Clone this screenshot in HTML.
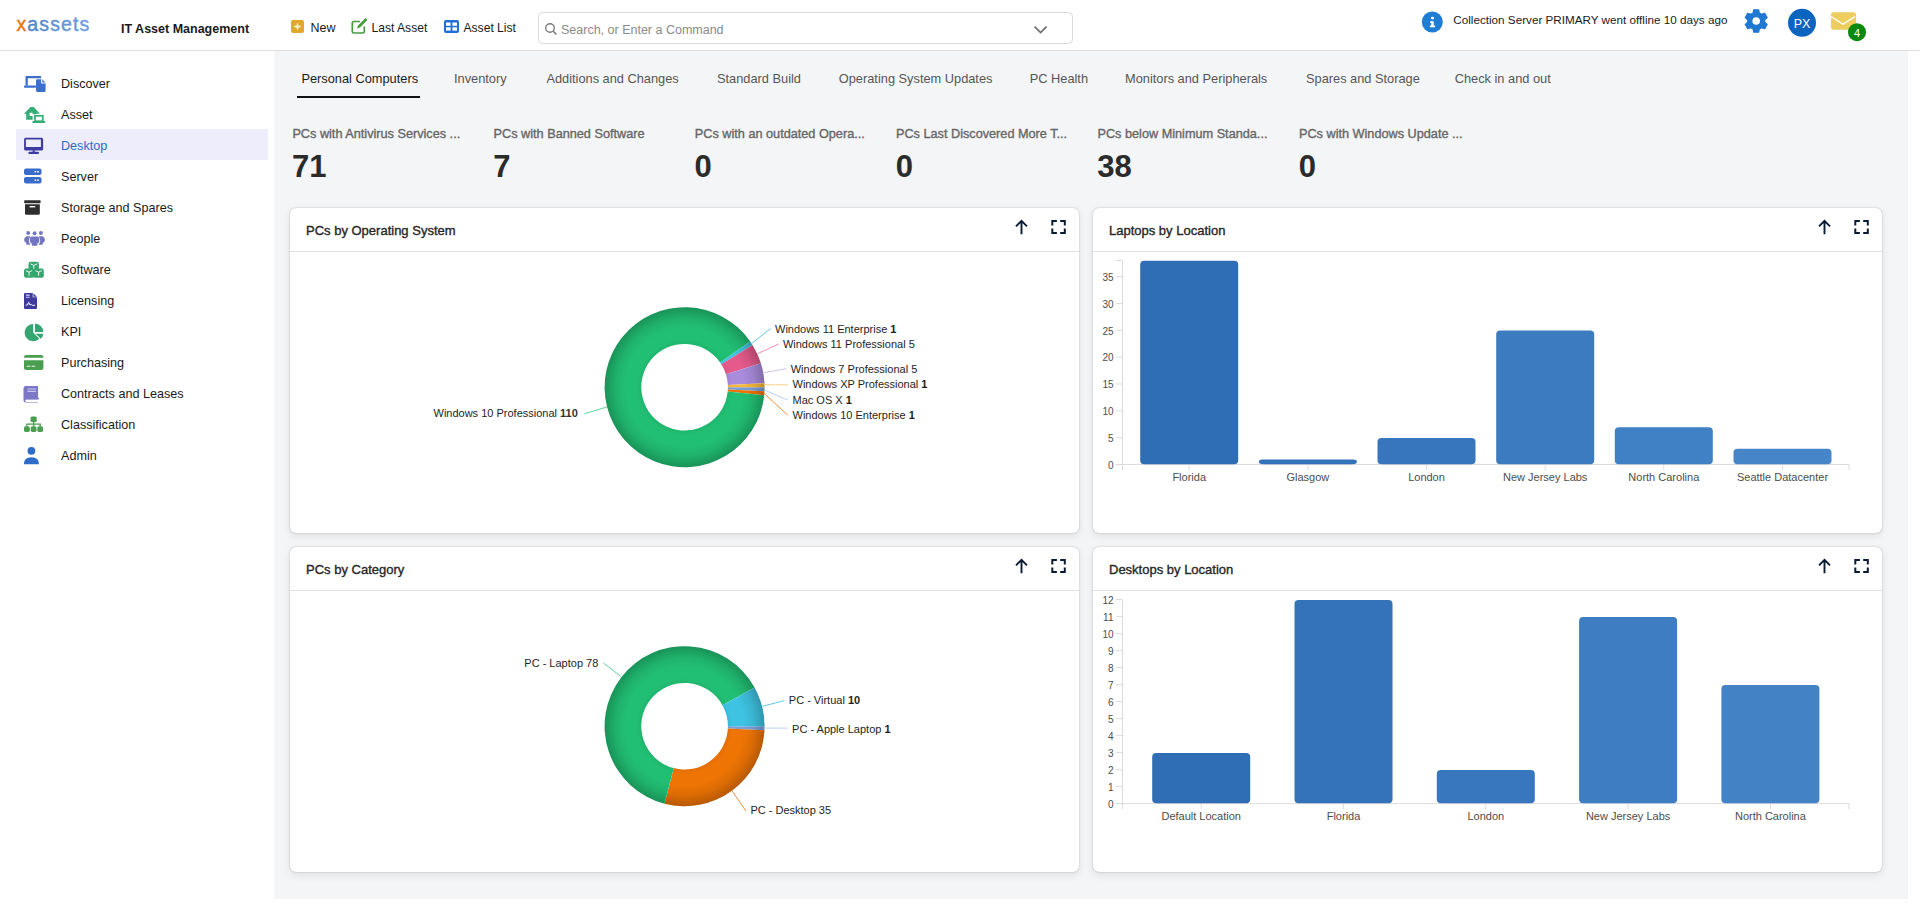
<!DOCTYPE html>
<html><head><meta charset="utf-8">
<style>
*{box-sizing:border-box;margin:0;padding:0}
html,body{width:1920px;height:911px;overflow:hidden;background:#fff;font-family:"Liberation Sans",sans-serif;color:#222}
.abs{position:absolute}
#hdr{position:absolute;left:0;top:0;width:1920px;height:51px;background:#fff;border-bottom:1px solid #dfdedc;z-index:2}
#side{position:absolute;left:0;top:51px;width:274px;height:860px;background:#fff}
#main{position:absolute;left:274px;top:51px;width:1634px;height:848px;background:#f4f5f7}
.nt{position:absolute;left:61px;margin-top:1px;font-size:12.6px;line-height:18px;color:#1a1a1a;white-space:nowrap}
.nav .ic{position:absolute;left:8px;top:6px;width:20px;height:20px}
.nav .tx{position:absolute;left:45px;top:0;line-height:31px;font-size:13px;color:#1a1a1a;white-space:nowrap}
.nav.sel{background:#ececfb}
.nav.sel .tx{color:#4468c8}
.tab{position:absolute;top:71px;font-size:12.8px;color:#555;white-space:nowrap;line-height:16px}
.kl{position:absolute;top:127px;font-size:12.7px;color:#666;-webkit-text-stroke:0.35px #666;white-space:nowrap;line-height:15px}
.kn{position:absolute;top:148.5px;font-size:31px;font-weight:bold;color:#2b2b2b;line-height:36px}
.card{position:absolute;background:#fff;border-radius:6px;box-shadow:0 0 1.5px rgba(60,50,40,0.38),0 3px 9px rgba(0,0,0,0.09)}
.card .ch{position:absolute;left:0;top:0;right:0;height:44px;border-bottom:1px solid #e2e2e2}
.card .ct{position:absolute;left:16px;top:15px;font-size:13px;color:#262626;-webkit-text-stroke:0.35px #262626;line-height:15px;white-space:nowrap}
.card svg.hi{position:absolute;top:12px}
.card svg.chart{position:absolute;left:0;top:0}
</style></head><body>
<div id="hdr">
<svg class="abs" style="left:0;top:0" width="1920" height="50">
<defs><linearGradient id="lg" x1="0" x2="1"><stop offset="0" stop-color="#4a84bd"/><stop offset="1" stop-color="#729fe2"/></linearGradient></defs>
<text x="16.5" y="30.5" font-family="Liberation Sans" font-size="19.5" letter-spacing="1.1"><tspan fill="#e8740f" stroke="#e8740f" stroke-width="0.45">x</tspan><tspan fill="url(#lg)" stroke="url(#lg)" stroke-width="0.45">assets</tspan></text>
<text x="121" y="33" font-family="Liberation Sans" font-size="12.5" font-weight="bold" fill="#1a1a1a">IT Asset Management</text>
<rect x="291" y="20" width="13" height="13" rx="2" fill="#e2a82c"/>
<path d="M297.5 23.5v6M294.5 26.5h6" stroke="#fff" stroke-width="1.4"/>
<text x="310.5" y="32" font-family="Liberation Sans" font-size="12.5" fill="#1a1a1a">New</text>
<path d="M360 21.5h-6.2a1.5 1.5 0 0 0 -1.5 1.5v8.5a1.5 1.5 0 0 0 1.5 1.5h9a1.5 1.5 0 0 0 1.5 -1.5v-5" fill="none" stroke="#4b9a41" stroke-width="1.7"/>
<path d="M357 28.5l1-3 7.5-7.5 2 2-7.5 7.5z" fill="#4b9a41"/>
<text x="371.5" y="32" font-family="Liberation Sans" font-size="12.1" fill="#1a1a1a">Last Asset</text>
<rect x="444" y="20" width="15" height="13" rx="2" fill="#1f6fd6"/>
<rect x="446" y="22.5" width="4.6" height="3.3" fill="#fff"/><rect x="452.4" y="22.5" width="4.6" height="3.3" fill="#fff"/>
<rect x="446" y="27.3" width="4.6" height="3.3" fill="#fff"/><rect x="452.4" y="27.3" width="4.6" height="3.3" fill="#fff"/>
<text x="463.5" y="32" font-family="Liberation Sans" font-size="12.1" fill="#1a1a1a">Asset List</text>
<rect x="538.5" y="12.5" width="534" height="31" rx="4" fill="#fff" stroke="#dadada"/>
<circle cx="550" cy="28" r="4.3" fill="none" stroke="#7a7a7a" stroke-width="1.4"/>
<path d="M553.2 31.2l3.3 3.3" stroke="#7a7a7a" stroke-width="1.6"/>
<text x="561" y="33.5" font-family="Liberation Sans" font-size="12.5" fill="#8a8a8a">Search, or Enter a Command</text>
<path d="M1034.6 26.6l6 6 6-6" fill="none" stroke="#6e6e6e" stroke-width="1.7"/>
<circle cx="1432.3" cy="22" r="10.5" fill="#1f7dd3"/>
<rect x="1431.2" y="21.3" width="2.5" height="5.5" fill="#fff"/><rect x="1430" y="21.3" width="2.5" height="1.5" fill="#fff"/><rect x="1429.8" y="25.6" width="5.4" height="1.7" rx="0.5" fill="#fff"/>
<ellipse cx="1432.5" cy="18.1" rx="1.6" ry="1.3" fill="#fff"/>
<text x="1453.3" y="24.4" font-family="Liberation Sans" font-size="11.7" fill="#1a1a1a">Collection Server PRIMARY went offline 10 days ago</text>
<g transform="translate(1756.2 21)" fill="#1f78d1">
<path fill-rule="evenodd" stroke="#1f78d1" stroke-width="1.2" stroke-linejoin="round" d="M-3.10 -8.00 L-2.50 -11.20 L2.50 -11.20 L3.10 -8.00 L5.38 -6.68 L8.45 -7.77 L10.95 -3.43 L8.48 -1.32 L8.48 1.32 L10.95 3.43 L8.45 7.77 L5.38 6.68 L3.10 8.00 L2.50 11.20 L-2.50 11.20 L-3.10 8.00 L-5.38 6.68 L-8.45 7.77 L-10.95 3.43 L-8.48 1.32 L-8.48 -1.32 L-10.95 -3.43 L-8.45 -7.77 L-5.38 -6.68Z M4.4 0 A4.4 4.4 0 1 0 -4.4 0 A4.4 4.4 0 1 0 4.4 0Z"/>
</g>
<circle cx="1802" cy="22.8" r="14" fill="#0b64c0"/>
<text x="1802" y="27.5" text-anchor="middle" font-family="Liberation Sans" font-size="12.5" fill="#fff">PX</text>
<rect x="1831" y="12.2" width="25" height="17.6" rx="2.5" fill="#eccd5e"/>
<path d="M1831.2 16.6l11.8 7.6 11.8-7.6" fill="none" stroke="#fff" stroke-width="1.3"/>
<circle cx="1857" cy="32.2" r="9" fill="#098a0c"/>
<text x="1857" y="36.5" text-anchor="middle" font-family="Liberation Sans" font-size="11" fill="#fff">4</text>
</svg>
</div>
<div id="side">
<div class="abs" style="left:16px;top:78px;width:252px;height:31px;background:#eeedfb"></div>
<div class="nt" style="top:23px">Discover</div>
<div class="nt" style="top:54px">Asset</div>
<div class="nt" style="top:85px;color:#2a6acb">Desktop</div>
<div class="nt" style="top:116px">Server</div>
<div class="nt" style="top:147px">Storage and Spares</div>
<div class="nt" style="top:178px">People</div>
<div class="nt" style="top:209px">Software</div>
<div class="nt" style="top:240px">Licensing</div>
<div class="nt" style="top:271px">KPI</div>
<div class="nt" style="top:302px">Purchasing</div>
<div class="nt" style="top:333px">Contracts and Leases</div>
<div class="nt" style="top:364px">Classification</div>
<div class="nt" style="top:395px">Admin</div>
<svg class="abs" style="left:0;top:-51px" width="274" height="520">
<!-- discover -->
<g fill="#3b6fcb">
<path d="M25.5 76h15.5v2.3h-13.2v7.2h-2.3z"/>
<rect x="24" y="85.5" width="12" height="2.3" rx="0.8"/>
<path d="M36 80.5q0-1.3 1.3-1.3h4.5l3.8 3.8v7.6q0 1.3-1.3 1.3h-7q-1.3 0-1.3-1.3z"/>
</g>
<path d="M41.6 79.2v3.9h3.9" fill="#fff" stroke="#fff" stroke-width="0.9"/>
<path d="M42.3 79.6v2.9h2.9z" fill="#3b6fcb"/>
<!-- asset -->
<path d="M30.6 107h3.2l6 6.7h-3.8v0.6h-3.4v-1.6h-3v3.3h3v3.8h-6.4v-6.1h-2.3z" fill="#34ad76"/>
<rect x="35" y="115.8" width="7.8" height="5.4" fill="none" stroke="#34ad76" stroke-width="1.7"/>
<rect x="32.3" y="121" width="13" height="2" rx="0.8" fill="#34ad76"/>
<!-- desktop -->
<g fill="#3d3aa2">
<path d="M24.1 139.3q0-1.5 1.5-1.5h16q1.5 0 1.5 1.5v9.8q0 1.5-1.5 1.5h-16q-1.5 0-1.5-1.5z M25.9 139.4v7.6h15v-7.6z" fill-rule="evenodd"/>
<rect x="32.6" y="150.3" width="2.2" height="2"/>
<rect x="28.4" y="151.8" width="10.6" height="2.2" rx="1"/>
</g>
<!-- server -->
<g fill="#3a6dca">
<rect x="24" y="168.5" width="17.5" height="6.6" rx="2"/>
<rect x="24" y="177" width="17.5" height="6.6" rx="2"/>
</g>
<g fill="#fff"><rect x="34.6" y="171" width="1.6" height="1.4"/><rect x="37.2" y="171" width="1.6" height="1.4"/><rect x="34.6" y="179.5" width="1.6" height="1.4"/><rect x="37.2" y="179.5" width="1.6" height="1.4"/></g>
<!-- storage -->
<g fill="#2e2e2e">
<rect x="24.2" y="200.2" width="16.4" height="3" rx="0.6"/>
<path d="M25 204.2h14.8v9.3q0 1.2-1.2 1.2h-12.4q-1.2 0-1.2-1.2z"/>
</g>
<rect x="29.6" y="206" width="5.6" height="1.4" fill="#fff"/>
<!-- people -->
<g fill="#7276c2">
<circle cx="28.2" cy="233" r="1.95"/><circle cx="34.6" cy="233.2" r="1.95"/><circle cx="40.9" cy="233" r="1.95"/>
<path d="M32 236.6h5.2q2.1 0 2.1 2.1v2.4q0 1.8-1.9 2.5v1.5q0 0.6-0.6 0.6h-4.4q-0.6 0-0.6-0.6v-1.5q-1.9-0.7-1.9-2.5v-2.4q0-2.1 2.1-2.1z"/>
<path d="M26.6 236.2h3.9q-1.6 1.9-1.6 4.4t1.4 3.3v0.8h-3.9v-1.6q-2.3-1-2.3-3.3t2.5-3.6z"/>
<path d="M42.5 236.2h-3.9q1.6 1.9 1.6 4.4t-1.4 3.3v0.8h3.9v-1.6q2.3-1 2.3-3.3t-2.5-3.6z"/>
</g>
<!-- software -->
<g fill="#36a66f">
<path d="M30.5 261.8h6.2q2.2 0 2.2 2.2v5.4q0 2-2 2h-6.4q-2 0-2-2v-5.4q0-2.2 2-2.2z"/>
<path d="M26 268.6h6.2q2.2 0 2.2 2.2v5q0 2-2 2h-6.4q-2 0-2-2v-5q0-2.2 2-2.2z"/>
<path d="M35.6 268.6h6.2q2 0 2 2.2v5q0 2-2 2h-6.4q-2 0-2-2v-5q0-2.2 2.2-2.2z"/>
</g>
<path d="M30.4 263.8l3.4 1.6 3.4-1.6M33.8 265.4v3.4M25.8 270.6l3.2 1.5 3.2-1.5M29 272.1v3.6M35.4 270.6l3.2 1.5 3.2-1.5M38.6 272.1v3.6" fill="none" stroke="#fff" stroke-width="0.9"/>
<path d="M32.6 270.4v1.2M34.6 270.4v1.2" stroke="#36a66f" stroke-width="1.4"/>
<!-- licensing -->
<path d="M24 294q0-1.1 1.1-1.1h7.6l4.3 4.3v10.7q0 1.1-1.1 1.1h-10.8q-1.1 0-1.1-1.1z" fill="#3f3a9e"/>
<path d="M32.7 292.9v4.3h4.3z" fill="#fff"/>
<path d="M33.4 293.4v3.3h3.3z" fill="#3f3a9e"/>
<path d="M25.9 295.1h3.8M25.9 297.3h3.8" stroke="#d8d6f0" stroke-width="1.1"/>
<path d="M25.7 305.2l1.8-0.3 1.2-2.6 1.3 2.7 1.3-0.6 0.9 0.9h2.8" fill="none" stroke="#fff" stroke-width="1"/>
<!-- kpi -->
<path d="M33.2 324v8.6l6.1 6.1a8.6 8.6 0 1 1 -6.1 -14.7z" fill="#35a672"/>
<path d="M35 323.6a8.4 8.4 0 0 1 8.3 8.3h-8.3z" fill="#35a672"/>
<path d="M35.6 333.7h7.7a8.4 8.4 0 0 1 -2.5 5.1z" fill="#35a672"/>
<!-- purchasing -->
<g fill="#4a9e4f">
<path d="M24 357.2q0-2.2 2.2-2.2h15q2.2 0 2.2 2.2v0.6h-19.4z"/>
<path d="M24 360.3h19.4v7.6q0 2.1-2.1 2.1h-15.2q-2.1 0-2.1-2.1z"/>
</g>
<path d="M26.8 366.2h3.6M31.6 366.2h3.6" stroke="#fff" stroke-width="0.9"/>
<!-- contracts -->
<path d="M26 386h13v13.5h-11.5q-1.2 0-1.2 1.2t1.2 1.2h11.5v0.6h-12.3q-2.2 0-2.2-2.2v-12.1q0-2.2 2.2-2.2z" fill="#7c78c6" transform="translate(-1 0)"/>
<path d="M25.7 399.3q0-1.5 1.5-1.5h11.8v1.4" fill="#7c78c6"/>
<path d="M27.5 389h8.5M27.5 391.3h8.5" stroke="#c8c6ec" stroke-width="1.2"/>
<path d="M26.5 401.2h12" stroke="#fff" stroke-width="1"/>
<!-- classification -->
<g fill="#4a9e4f">
<rect x="30.5" y="416.5" width="6.2" height="5.6" rx="1.6"/>
<rect x="24" y="426.3" width="5.8" height="5.6" rx="1.6"/>
<rect x="30.7" y="426.3" width="5.8" height="5.6" rx="1.6"/>
<rect x="37.3" y="426.3" width="5.8" height="5.6" rx="1.6"/>
</g>
<path d="M33.6 421v5.3M26.9 426.5v-2.3h13.3v2.3" fill="none" stroke="#4a9e4f" stroke-width="1.3"/>
<!-- admin -->
<g fill="#2f6cc8">
<circle cx="31.4" cy="450.8" r="3.9"/>
<path d="M23.8 464.3q0-7.1 7.6-7.1t7.6 7.1z"/>
</g>
</svg>
</div>
<div id="main"></div>
<div class="tab" style="left:301.4px;color:#1a1a1a">Personal Computers</div>
<div class="tab" style="left:454.0px;color:#555">Inventory</div>
<div class="tab" style="left:546.4px;color:#555">Additions and Changes</div>
<div class="tab" style="left:717.0px;color:#555">Standard Build</div>
<div class="tab" style="left:838.8px;color:#555">Operating System Updates</div>
<div class="tab" style="left:1029.7px;color:#555">PC Health</div>
<div class="tab" style="left:1125.0px;color:#555">Monitors and Peripherals</div>
<div class="tab" style="left:1306.0px;color:#555">Spares and Storage</div>
<div class="tab" style="left:1454.7px;color:#555">Check in and out</div>
<div class="abs" style="left:297px;top:95.6px;width:123px;height:2.6px;background:#111"></div>
<div class="kl" style="left:292.4px">PCs with Antivirus Services ...</div>
<div class="kn" style="left:292.1px">71</div>
<div class="kl" style="left:493.6px">PCs with Banned Software</div>
<div class="kn" style="left:493.3px">7</div>
<div class="kl" style="left:694.8px">PCs with an outdated Opera...</div>
<div class="kn" style="left:694.5px">0</div>
<div class="kl" style="left:896.0px">PCs Last Discovered More T...</div>
<div class="kn" style="left:895.7px">0</div>
<div class="kl" style="left:1097.5px">PCs below Minimum Standa...</div>
<div class="kn" style="left:1097.2px">38</div>
<div class="kl" style="left:1299.0px">PCs with Windows Update ...</div>
<div class="kn" style="left:1298.7px">0</div>
<div class="card" id="c1" style="left:290px;top:208px;width:789px;height:325px">
<div class="ch"></div><div class="ct">PCs by Operating System</div>
<svg class="abs" style="left:720px;top:10px" width="60" height="20"><g fill="none" stroke="#0b1b33" stroke-width="1.9"><path d="M11.5 3v13.2M6 8.3l5.5-5.5 5.5 5.5"/></g><g fill="none" stroke="#0b1b33" stroke-width="2"><path d="M42.3 7.6V3h4.6M50.2 3h4.6v4.6M54.8 10.4V15h-4.6M46.9 15h-4.6v-4.6"/></g></svg>
<!--C1--><svg class="abs" style="left:0;top:0" width="789" height="325" font-family="Liberation Sans"><g transform="translate(-290 -208)"><defs><radialGradient id="g1_0" gradientUnits="userSpaceOnUse" cx="684.60" cy="387.20" r="80.00"><stop offset="0.541" stop-color="#7498d1"/><stop offset="0.601" stop-color="#7aa0dc"/><stop offset="0.74" stop-color="#7aa0dc"/><stop offset="0.86" stop-color="#7195cd"/><stop offset="1" stop-color="#5e7ba9"/></radialGradient><radialGradient id="g1_1" gradientUnits="userSpaceOnUse" cx="684.60" cy="387.20" r="80.00"><stop offset="0.541" stop-color="#e26e04"/><stop offset="0.601" stop-color="#ee7404"/><stop offset="0.74" stop-color="#ee7404"/><stop offset="0.86" stop-color="#dd6c04"/><stop offset="1" stop-color="#b75903"/></radialGradient><radialGradient id="g1_2" gradientUnits="userSpaceOnUse" cx="684.60" cy="387.20" r="80.00"><stop offset="0.541" stop-color="#1fb56d"/><stop offset="0.601" stop-color="#21bf73"/><stop offset="0.74" stop-color="#21bf73"/><stop offset="0.86" stop-color="#1fb26b"/><stop offset="1" stop-color="#199359"/></radialGradient><radialGradient id="g1_3" gradientUnits="userSpaceOnUse" cx="684.60" cy="387.20" r="80.00"><stop offset="0.541" stop-color="#3bb9d7"/><stop offset="0.601" stop-color="#3ec3e2"/><stop offset="0.74" stop-color="#3ec3e2"/><stop offset="0.86" stop-color="#3ab5d2"/><stop offset="1" stop-color="#3096ae"/></radialGradient><radialGradient id="g1_4" gradientUnits="userSpaceOnUse" cx="684.60" cy="387.20" r="80.00"><stop offset="0.541" stop-color="#da5684"/><stop offset="0.601" stop-color="#e55a8b"/><stop offset="0.74" stop-color="#e55a8b"/><stop offset="0.86" stop-color="#d55481"/><stop offset="1" stop-color="#b0456b"/></radialGradient><radialGradient id="g1_5" gradientUnits="userSpaceOnUse" cx="684.60" cy="387.20" r="80.00"><stop offset="0.541" stop-color="#a185d1"/><stop offset="0.601" stop-color="#a98cdc"/><stop offset="0.74" stop-color="#a98cdc"/><stop offset="0.86" stop-color="#9d82cd"/><stop offset="1" stop-color="#826ca9"/></radialGradient><radialGradient id="g1_6" gradientUnits="userSpaceOnUse" cx="684.60" cy="387.20" r="80.00"><stop offset="0.541" stop-color="#e9af37"/><stop offset="0.601" stop-color="#f5b83a"/><stop offset="0.74" stop-color="#f5b83a"/><stop offset="0.86" stop-color="#e4ab36"/><stop offset="1" stop-color="#bd8e2d"/></radialGradient></defs><path d="M764.60 387.20 A80.00 80.00 0 0 1 764.50 391.25 L727.84 389.39 A43.30 43.30 0 0 0 727.90 387.20 Z" fill="url(#g1_0)"/><path d="M764.50 391.25 A80.00 80.00 0 0 1 764.19 395.29 L727.68 391.58 A43.30 43.30 0 0 0 727.84 389.39 Z" fill="url(#g1_1)"/><path d="M764.19 395.29 A80.00 80.00 0 1 1 750.26 341.50 L720.14 362.46 A43.30 43.30 0 1 0 727.68 391.58 Z" fill="url(#g1_2)"/><path d="M750.26 341.50 A80.00 80.00 0 0 1 752.49 344.88 L721.35 364.30 A43.30 43.30 0 0 0 720.14 362.46 Z" fill="url(#g1_3)"/><path d="M752.49 344.88 A80.00 80.00 0 0 1 760.93 363.25 L725.91 374.24 A43.30 43.30 0 0 0 721.35 364.30 Z" fill="url(#g1_4)"/><path d="M760.93 363.25 A80.00 80.00 0 0 1 764.50 383.15 L727.84 385.01 A43.30 43.30 0 0 0 725.91 374.24 Z" fill="url(#g1_5)"/><path d="M764.50 383.15 A80.00 80.00 0 0 1 764.60 387.20 L727.90 387.20 A43.30 43.30 0 0 0 727.84 385.01 Z" fill="url(#g1_6)"/><path d="M751.5 343.4 L770.8 328.5" stroke="#62cbe6" stroke-width="1" fill="none"/><path d="M757.9 353.6 L778.6 344.0" stroke="#f08db0" stroke-width="1" fill="none"/><path d="M763.6 372.7 L786.5 368.7" stroke="#d2c3f2" stroke-width="1" fill="none"/><path d="M764.2 384.8 L787.7 384.8" stroke="#f8d085" stroke-width="1" fill="none"/><path d="M764.2 389.9 L787.7 400.1" stroke="#bcd0f2" stroke-width="1" fill="none"/><path d="M763.6 392.9 L787.7 415.2" stroke="#f5923c" stroke-width="1" fill="none"/><path d="M584.4 413.8 L606.9 407.0" stroke="#5fd49c" stroke-width="1" fill="none"/><text x="775.0" y="333.1" font-size="11" fill="#1e1e1e" text-anchor="start">Windows 11 Enterprise <tspan font-weight="bold">1</tspan></text><text x="782.9" y="347.9" font-size="11" fill="#1e1e1e" text-anchor="start">Windows 11 Professional 5</text><text x="790.7" y="372.7" font-size="11" fill="#1e1e1e" text-anchor="start">Windows 7 Professional 5</text><text x="792.5" y="388.1" font-size="11" fill="#1e1e1e" text-anchor="start">Windows XP Professional <tspan font-weight="bold">1</tspan></text><text x="792.5" y="403.8" font-size="11" fill="#1e1e1e" text-anchor="start">Mac OS X <tspan font-weight="bold">1</tspan></text><text x="792.5" y="418.9" font-size="11" fill="#1e1e1e" text-anchor="start">Windows 10 Enterprise <tspan font-weight="bold">1</tspan></text><text x="433.5" y="417.2" font-size="11" fill="#1e1e1e" text-anchor="start">Windows 10 Professional <tspan font-weight="bold" fill="#333">110</tspan></text></g></svg><!--/C1-->
</div>
<div class="card" id="c2" style="left:1093px;top:208px;width:789px;height:325px">
<div class="ch"></div><div class="ct">Laptops by Location</div>
<svg class="abs" style="left:720px;top:10px" width="60" height="20"><g fill="none" stroke="#0b1b33" stroke-width="1.9"><path d="M11.5 3v13.2M6 8.3l5.5-5.5 5.5 5.5"/></g><g fill="none" stroke="#0b1b33" stroke-width="2"><path d="M42.3 7.6V3h4.6M50.2 3h4.6v4.6M54.8 10.4V15h-4.6M46.9 15h-4.6v-4.6"/></g></svg>
<!--C2--><svg class="abs" style="left:0;top:0" width="789" height="325" font-family="Liberation Sans"><g transform="translate(-1093 -208)"><rect x="1122.0" y="260.5" width="1" height="209.5" fill="#dcdcdc"/><rect x="1116.5" y="464.0" width="733.0" height="1" fill="#dcdcdc"/><rect x="1116.0" y="464.0" width="6" height="1" fill="#dcdcdc"/><text x="1113.5" y="468.7" font-size="10" fill="#4d4d4d" text-anchor="end">0</text><rect x="1116.0" y="437.2" width="6" height="1" fill="#dcdcdc"/><text x="1113.5" y="441.9" font-size="10" fill="#4d4d4d" text-anchor="end">5</text><rect x="1116.0" y="410.3" width="6" height="1" fill="#dcdcdc"/><text x="1113.5" y="415.0" font-size="10" fill="#4d4d4d" text-anchor="end">10</text><rect x="1116.0" y="383.5" width="6" height="1" fill="#dcdcdc"/><text x="1113.5" y="388.2" font-size="10" fill="#4d4d4d" text-anchor="end">15</text><rect x="1116.0" y="356.6" width="6" height="1" fill="#dcdcdc"/><text x="1113.5" y="361.3" font-size="10" fill="#4d4d4d" text-anchor="end">20</text><rect x="1116.0" y="329.8" width="6" height="1" fill="#dcdcdc"/><text x="1113.5" y="334.5" font-size="10" fill="#4d4d4d" text-anchor="end">25</text><rect x="1116.0" y="302.9" width="6" height="1" fill="#dcdcdc"/><text x="1113.5" y="307.6" font-size="10" fill="#4d4d4d" text-anchor="end">30</text><rect x="1116.0" y="276.1" width="6" height="1" fill="#dcdcdc"/><text x="1113.5" y="280.8" font-size="10" fill="#4d4d4d" text-anchor="end">35</text><rect x="1116.0" y="260.0" width="6" height="1" fill="#dcdcdc"/><rect x="1848.5" y="464.5" width="1" height="5.5" fill="#dcdcdc"/><rect x="1188.7" y="464.5" width="1" height="5.5" fill="#dcdcdc"/><rect x="1140.2" y="260.80" width="98" height="203.40" rx="4" fill="#2f6db5"/><text x="1189.2" y="480.5" font-size="11" fill="#4d4d4d" text-anchor="middle">Florida</text><rect x="1307.4" y="464.5" width="1" height="5.5" fill="#dcdcdc"/><rect x="1258.9" y="459.43" width="98" height="4.77" rx="4" fill="#3371b8"/><text x="1307.9" y="480.5" font-size="11" fill="#4d4d4d" text-anchor="middle">Glasgow</text><rect x="1426.0" y="464.5" width="1" height="5.5" fill="#dcdcdc"/><rect x="1377.5" y="437.96" width="98" height="26.24" rx="4" fill="#3775bc"/><text x="1426.5" y="480.5" font-size="11" fill="#4d4d4d" text-anchor="middle">London</text><rect x="1544.7" y="464.5" width="1" height="5.5" fill="#dcdcdc"/><rect x="1496.2" y="330.59" width="98" height="133.61" rx="4" fill="#3c7bc0"/><text x="1545.2" y="480.5" font-size="11" fill="#4d4d4d" text-anchor="middle">New Jersey Labs</text><rect x="1663.3" y="464.5" width="1" height="5.5" fill="#dcdcdc"/><rect x="1614.8" y="427.22" width="98" height="36.98" rx="4" fill="#4080c4"/><text x="1663.8" y="480.5" font-size="11" fill="#4d4d4d" text-anchor="middle">North Carolina</text><rect x="1782.0" y="464.5" width="1" height="5.5" fill="#dcdcdc"/><rect x="1733.5" y="448.69" width="98" height="15.51" rx="4" fill="#4686c8"/><text x="1782.5" y="480.5" font-size="11" fill="#4d4d4d" text-anchor="middle">Seattle Datacenter</text></g></svg><!--/C2-->
</div>
<div class="card" id="c3" style="left:290px;top:547px;width:789px;height:325px">
<div class="ch"></div><div class="ct">PCs by Category</div>
<svg class="abs" style="left:720px;top:10px" width="60" height="20"><g fill="none" stroke="#0b1b33" stroke-width="1.9"><path d="M11.5 3v13.2M6 8.3l5.5-5.5 5.5 5.5"/></g><g fill="none" stroke="#0b1b33" stroke-width="2"><path d="M42.3 7.6V3h4.6M50.2 3h4.6v4.6M54.8 10.4V15h-4.6M46.9 15h-4.6v-4.6"/></g></svg>
<!--C3--><svg class="abs" style="left:0;top:0" width="789" height="325" font-family="Liberation Sans"><g transform="translate(-290 -547)"><defs><radialGradient id="g3_0" gradientUnits="userSpaceOnUse" cx="684.60" cy="726.20" r="80.00"><stop offset="0.541" stop-color="#7498d1"/><stop offset="0.601" stop-color="#7aa0dc"/><stop offset="0.74" stop-color="#7aa0dc"/><stop offset="0.86" stop-color="#7195cd"/><stop offset="1" stop-color="#5e7ba9"/></radialGradient><radialGradient id="g3_1" gradientUnits="userSpaceOnUse" cx="684.60" cy="726.20" r="80.00"><stop offset="0.541" stop-color="#e26e04"/><stop offset="0.601" stop-color="#ee7404"/><stop offset="0.74" stop-color="#ee7404"/><stop offset="0.86" stop-color="#dd6c04"/><stop offset="1" stop-color="#b75903"/></radialGradient><radialGradient id="g3_2" gradientUnits="userSpaceOnUse" cx="684.60" cy="726.20" r="80.00"><stop offset="0.541" stop-color="#1fb56d"/><stop offset="0.601" stop-color="#21bf73"/><stop offset="0.74" stop-color="#21bf73"/><stop offset="0.86" stop-color="#1fb26b"/><stop offset="1" stop-color="#199359"/></radialGradient><radialGradient id="g3_3" gradientUnits="userSpaceOnUse" cx="684.60" cy="726.20" r="80.00"><stop offset="0.541" stop-color="#3bb9d7"/><stop offset="0.601" stop-color="#3ec3e2"/><stop offset="0.74" stop-color="#3ec3e2"/><stop offset="0.86" stop-color="#3ab5d2"/><stop offset="1" stop-color="#3096ae"/></radialGradient></defs><path d="M764.60 726.20 A80.00 80.00 0 0 1 764.50 730.25 L727.84 728.39 A43.30 43.30 0 0 0 727.90 726.20 Z" fill="url(#g3_0)"/><path d="M764.50 730.25 A80.00 80.00 0 0 1 664.55 803.65 L673.75 768.12 A43.30 43.30 0 0 0 727.84 728.39 Z" fill="url(#g3_1)"/><path d="M664.55 803.65 A80.00 80.00 0 1 1 754.55 687.38 L722.46 705.19 A43.30 43.30 0 1 0 673.75 768.12 Z" fill="url(#g3_2)"/><path d="M754.55 687.38 A80.00 80.00 0 0 1 764.60 726.20 L727.90 726.20 A43.30 43.30 0 0 0 722.46 705.19 Z" fill="url(#g3_3)"/><path d="M603.3 662.9 L620.9 676.5" stroke="#5fd49c" stroke-width="1" fill="none"/><path d="M762.5 706.2 L784.4 700.7" stroke="#62cbe6" stroke-width="1" fill="none"/><path d="M763.6 728.1 L787.7 728.1" stroke="#bcd0f2" stroke-width="1" fill="none"/><path d="M731.7 790.3 L746.0 811.1" stroke="#f5923c" stroke-width="1" fill="none"/><text x="524.3" y="667.3" font-size="11" fill="#1e1e1e" text-anchor="start">PC - Laptop 78</text><text x="788.8" y="704.2" font-size="11" fill="#1e1e1e" text-anchor="start">PC - Virtual <tspan font-weight="bold">10</tspan></text><text x="792.1" y="733.2" font-size="11" fill="#1e1e1e" text-anchor="start">PC - Apple Laptop <tspan font-weight="bold">1</tspan></text><text x="750.4" y="814.0" font-size="11" fill="#1e1e1e" text-anchor="start">PC - Desktop 35</text></g></svg><!--/C3-->
</div>
<div class="card" id="c4" style="left:1093px;top:547px;width:789px;height:325px">
<div class="ch"></div><div class="ct">Desktops by Location</div>
<svg class="abs" style="left:720px;top:10px" width="60" height="20"><g fill="none" stroke="#0b1b33" stroke-width="1.9"><path d="M11.5 3v13.2M6 8.3l5.5-5.5 5.5 5.5"/></g><g fill="none" stroke="#0b1b33" stroke-width="2"><path d="M42.3 7.6V3h4.6M50.2 3h4.6v4.6M54.8 10.4V15h-4.6M46.9 15h-4.6v-4.6"/></g></svg>
<!--C4--><svg class="abs" style="left:0;top:0" width="789" height="325" font-family="Liberation Sans"><g transform="translate(-1093 -547)"><rect x="1122.0" y="599.6" width="1" height="209.5" fill="#dcdcdc"/><rect x="1116.5" y="803.1" width="733.0" height="1" fill="#dcdcdc"/><rect x="1116.0" y="803.1" width="6" height="1" fill="#dcdcdc"/><text x="1113.5" y="807.8" font-size="10" fill="#4d4d4d" text-anchor="end">0</text><rect x="1116.0" y="786.1" width="6" height="1" fill="#dcdcdc"/><text x="1113.5" y="790.8" font-size="10" fill="#4d4d4d" text-anchor="end">1</text><rect x="1116.0" y="769.1" width="6" height="1" fill="#dcdcdc"/><text x="1113.5" y="773.8" font-size="10" fill="#4d4d4d" text-anchor="end">2</text><rect x="1116.0" y="752.1" width="6" height="1" fill="#dcdcdc"/><text x="1113.5" y="756.8" font-size="10" fill="#4d4d4d" text-anchor="end">3</text><rect x="1116.0" y="735.1" width="6" height="1" fill="#dcdcdc"/><text x="1113.5" y="739.8" font-size="10" fill="#4d4d4d" text-anchor="end">4</text><rect x="1116.0" y="718.1" width="6" height="1" fill="#dcdcdc"/><text x="1113.5" y="722.8" font-size="10" fill="#4d4d4d" text-anchor="end">5</text><rect x="1116.0" y="701.1" width="6" height="1" fill="#dcdcdc"/><text x="1113.5" y="705.8" font-size="10" fill="#4d4d4d" text-anchor="end">6</text><rect x="1116.0" y="684.1" width="6" height="1" fill="#dcdcdc"/><text x="1113.5" y="688.8" font-size="10" fill="#4d4d4d" text-anchor="end">7</text><rect x="1116.0" y="667.1" width="6" height="1" fill="#dcdcdc"/><text x="1113.5" y="671.8" font-size="10" fill="#4d4d4d" text-anchor="end">8</text><rect x="1116.0" y="650.1" width="6" height="1" fill="#dcdcdc"/><text x="1113.5" y="654.8" font-size="10" fill="#4d4d4d" text-anchor="end">9</text><rect x="1116.0" y="633.1" width="6" height="1" fill="#dcdcdc"/><text x="1113.5" y="637.8" font-size="10" fill="#4d4d4d" text-anchor="end">10</text><rect x="1116.0" y="616.1" width="6" height="1" fill="#dcdcdc"/><text x="1113.5" y="620.8" font-size="10" fill="#4d4d4d" text-anchor="end">11</text><rect x="1116.0" y="599.1" width="6" height="1" fill="#dcdcdc"/><text x="1113.5" y="603.8" font-size="10" fill="#4d4d4d" text-anchor="end">12</text><rect x="1116.0" y="599.1" width="6" height="1" fill="#dcdcdc"/><rect x="1848.5" y="803.6" width="1" height="5.5" fill="#dcdcdc"/><rect x="1200.7" y="803.6" width="1" height="5.5" fill="#dcdcdc"/><rect x="1152.2" y="752.90" width="98" height="50.40" rx="4" fill="#2f6db5"/><text x="1201.2" y="819.6" font-size="11" fill="#4d4d4d" text-anchor="middle">Default Location</text><rect x="1343.0" y="803.6" width="1" height="5.5" fill="#dcdcdc"/><rect x="1294.5" y="599.90" width="98" height="203.40" rx="4" fill="#3473b9"/><text x="1343.5" y="819.6" font-size="11" fill="#4d4d4d" text-anchor="middle">Florida</text><rect x="1485.3" y="803.6" width="1" height="5.5" fill="#dcdcdc"/><rect x="1436.8" y="769.90" width="98" height="33.40" rx="4" fill="#3877bd"/><text x="1485.8" y="819.6" font-size="11" fill="#4d4d4d" text-anchor="middle">London</text><rect x="1627.6" y="803.6" width="1" height="5.5" fill="#dcdcdc"/><rect x="1579.1" y="616.90" width="98" height="186.40" rx="4" fill="#3e7dc2"/><text x="1628.1" y="819.6" font-size="11" fill="#4d4d4d" text-anchor="middle">New Jersey Labs</text><rect x="1769.9" y="803.6" width="1" height="5.5" fill="#dcdcdc"/><rect x="1721.4" y="684.90" width="98" height="118.40" rx="4" fill="#4282c5"/><text x="1770.4" y="819.6" font-size="11" fill="#4d4d4d" text-anchor="middle">North Carolina</text></g></svg><!--/C4-->
</div>
</body></html>
